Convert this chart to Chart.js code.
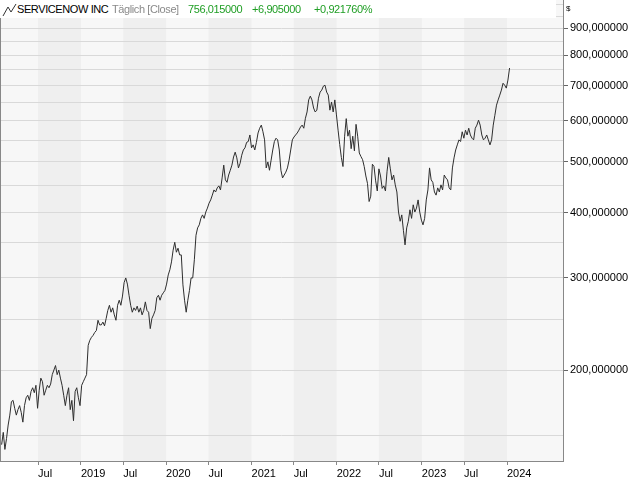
<!DOCTYPE html>
<html>
<head>
<meta charset="utf-8">
<script src="https://cdn.jsdelivr.net/npm/chart.js@4.4.0/dist/chart.umd.min.js"></script>
<style>
  html, body { margin: 0; padding: 0; background: #fff; }
  #wrap { position: relative; width: 640px; height: 480px; }
  #legend { position: absolute; left: 0; top: 0; width: 556px; height: 18px; background: #fff;
            font: 11px "Liberation Sans", Arial, sans-serif; letter-spacing: -0.4px; }
  #legend span { position: absolute; top: 3px; white-space: nowrap; }
  #legend svg { position: absolute; left: 2px; top: 3px; }
  #unit { position: absolute; left: 566px; top: 4px; font: 8px "Liberation Sans", Arial, sans-serif; color: #000; }
</style>
</head>
<body>
<div id="wrap">
  <canvas id="myChart" width="640" height="480"></canvas>
  <div id="legend">
    <svg width="16" height="14"><polyline points="1,13 6,4 9,9 14,1" fill="none" stroke="#333" stroke-width="1"/></svg>
    <span style="left:17px;color:#000">SERVICENOW INC</span>
    <span style="left:112px;color:#8a8a8a">Täglich [Close]</span>
    <span style="left:188px;color:#1f9e24">756,015000</span>
    <span style="left:252px;color:#1f9e24">+6,905000</span>
    <span style="left:314px;color:#1f9e24">+0,921760%</span>
  </div>
  <div id="unit">$</div>
</div>
<script>
// weekly closes, first one is the week of 26 Jan 2018
const seriesStart = Date.UTC(2018, 0, 26);
const closes = [
  144, 152, 141, 148, 157, 164, 174, 175, 169, 164, 168, 171, 166, 159, 171, 177, 179, 175, 182, 185,
  181, 187, 169, 183, 193, 190, 179, 183, 187, 185, 188, 196, 200, 204, 196, 200, 193, 187, 179, 171,
  179, 185, 168, 175, 160, 182, 185, 177, 171, 187, 190, 193, 196, 223, 228, 231, 233, 236, 238, 249,
  244, 244, 247, 243, 251, 260, 266, 258, 263, 255, 249, 266, 272, 266, 277, 294, 300, 292, 278, 266,
  258, 263, 260, 265, 258, 263, 255, 260, 270, 260, 258, 240, 251, 255, 260, 275, 278, 272, 278, 281,
  284, 292, 304, 311, 322, 339, 351, 336, 342, 332, 332, 291, 272, 258, 272, 284, 300, 300, 325, 362,
  374, 379, 390, 396, 390, 401, 408, 417, 423, 432, 442, 438, 446, 450, 442, 466, 493, 462, 457, 472,
  482, 493, 511, 522, 509, 487, 497, 515, 527, 532, 545, 547, 563, 532, 539, 527, 545, 568, 580, 588,
  571, 551, 487, 500, 482, 504, 527, 547, 555, 551, 527, 482, 466, 472, 478, 487, 504, 527, 551, 558,
  563, 568, 575, 583, 588, 580, 606, 623, 657, 668, 657, 634, 623, 628, 662, 680, 686, 698, 701, 680,
  671, 628, 651, 623, 657, 615, 575, 540, 510, 490, 560, 605, 560, 575, 530, 560, 525, 590, 560, 520,
  512, 505, 490, 470, 455, 420, 430, 495, 490, 460, 440, 485, 470, 445, 450, 440, 480, 510, 485, 462,
  472, 452, 438, 401, 385, 396, 370, 347, 374, 385, 405, 390, 414, 401, 408, 423, 401, 387, 379, 390,
  423, 442, 487, 462, 457, 438, 432, 446, 438, 452, 442, 472, 466, 462, 446, 442, 487, 509, 527, 539,
  551, 547, 571, 555, 575, 563, 580, 563, 555, 551, 580, 588, 601, 588, 563, 551, 555, 563, 551, 539,
  551, 588, 614, 642, 657, 671, 686, 707, 701, 692, 717, 756
];
const weekDates = closes.map((v, i) => seriesStart + i * 7 * 86400000);

const yTicks = [150, 200, 250, 300, 350, 400, 450, 500, 550, 600, 650, 700, 750, 800, 850, 900, 950, 1000];
const yLabelled = [200, 300, 400, 500, 600, 700, 800, 900];
const xTicks = ['2018-07-01', '2019-01-01', '2019-07-01', '2020-01-01', '2020-07-01', '2021-01-01',
  '2021-07-01', '2022-01-01', '2022-07-01', '2023-01-01', '2023-07-01', '2024-01-01'];
const shadedHalves = [['2018-07-01', '2019-01-01'], ['2019-07-01', '2020-01-01'], ['2020-07-01', '2021-01-01'],
  ['2021-07-01', '2022-01-01'], ['2022-07-01', '2023-01-01'], ['2023-07-01', '2024-01-01']];

const font = { family: '"Liberation Sans", Arial, sans-serif', size: 11 };

const backdrop = {
  id: 'backdrop',
  beforeDraw(chart) {
    const { ctx, chartArea: a, scales: { x } } = chart;
    ctx.save();
    ctx.fillStyle = '#f7f7f7';
    ctx.fillRect(a.left, a.top, a.right - a.left, a.bottom - a.top);
    ctx.fillStyle = '#efefef';
    shadedHalves.forEach(([s, e]) => {
      const x0 = Math.max(a.left, x.getPixelForValue(Date.parse(s)));
      const x1 = Math.min(a.right, x.getPixelForValue(Date.parse(e)));
      ctx.fillRect(x0, a.top, x1 - x0, a.bottom - a.top);
    });
    ctx.restore();
  },
  afterDraw(chart) {
    const { ctx, chartArea: a } = chart;
    ctx.save();
    ctx.strokeStyle = '#888';
    ctx.lineWidth = 1;
    ctx.beginPath();
    ctx.moveTo(a.left + 0.5, a.top);
    ctx.lineTo(a.left + 0.5, a.bottom);
    ctx.stroke();
    ctx.restore();
  }
};

const ctx = document.getElementById('myChart');

new Chart(ctx, {
  type: 'line',
  data: {
    datasets: [{
      data: weekDates.map((t, i) => ({ x: t, y: closes[i] })),
      borderColor: '#2e2e2e',
      borderWidth: 1,
      pointRadius: 0,
      tension: 0
    }]
  },
  options: {
    responsive: false,
    animation: false,
    layout: { padding: 0 },
    plugins: { legend: { display: false }, tooltip: { enabled: false } },
    scales: {
      x: {
        type: 'linear',
        bounds: 'data',
        min: Date.UTC(2018, 0, 19),
        max: Date.UTC(2024, 7, 28),
        afterBuildTicks: s => { s.ticks = xTicks.map(d => ({ value: Date.parse(d) })); },
        afterFit: s => { s.height = 19; s.paddingLeft = 0; s.paddingRight = 0; },
        grid: { drawOnChartArea: false, tickLength: 4, tickColor: '#888' },
        border: { color: '#888' },
        ticks: {
          align: 'start', maxRotation: 0, autoSkip: false, padding: 2, color: '#000', font: font,
          callback: v => {
            const d = new Date(v);
            return d.getUTCMonth() === 6 ? 'Jul' : String(d.getUTCFullYear());
          }
        }
      },
      y: {
        type: 'logarithmic',
        position: 'right',
        bounds: 'data',
        min: 134,
        max: 1020,
        afterBuildTicks: s => { s.ticks = yTicks.map(v => ({ value: v })); },
        afterFit: s => { s.width = 77; s.paddingTop = 0; s.paddingBottom = 0; },
        grid: {
          color: '#d9d9d9',
          tickLength: 5,
          tickColor: c => (c.tick && yLabelled.includes(c.tick.value)) ? '#666' : 'rgba(0,0,0,0)'
        },
        border: { color: '#888' },
        ticks: {
          padding: 2, color: '#000', font: font,
          callback: v => yLabelled.includes(v) ? v.toFixed(6).replace('.', ',') : ''
        }
      }
    }
  },
  plugins: [backdrop]
});
</script>
</body>
</html>
